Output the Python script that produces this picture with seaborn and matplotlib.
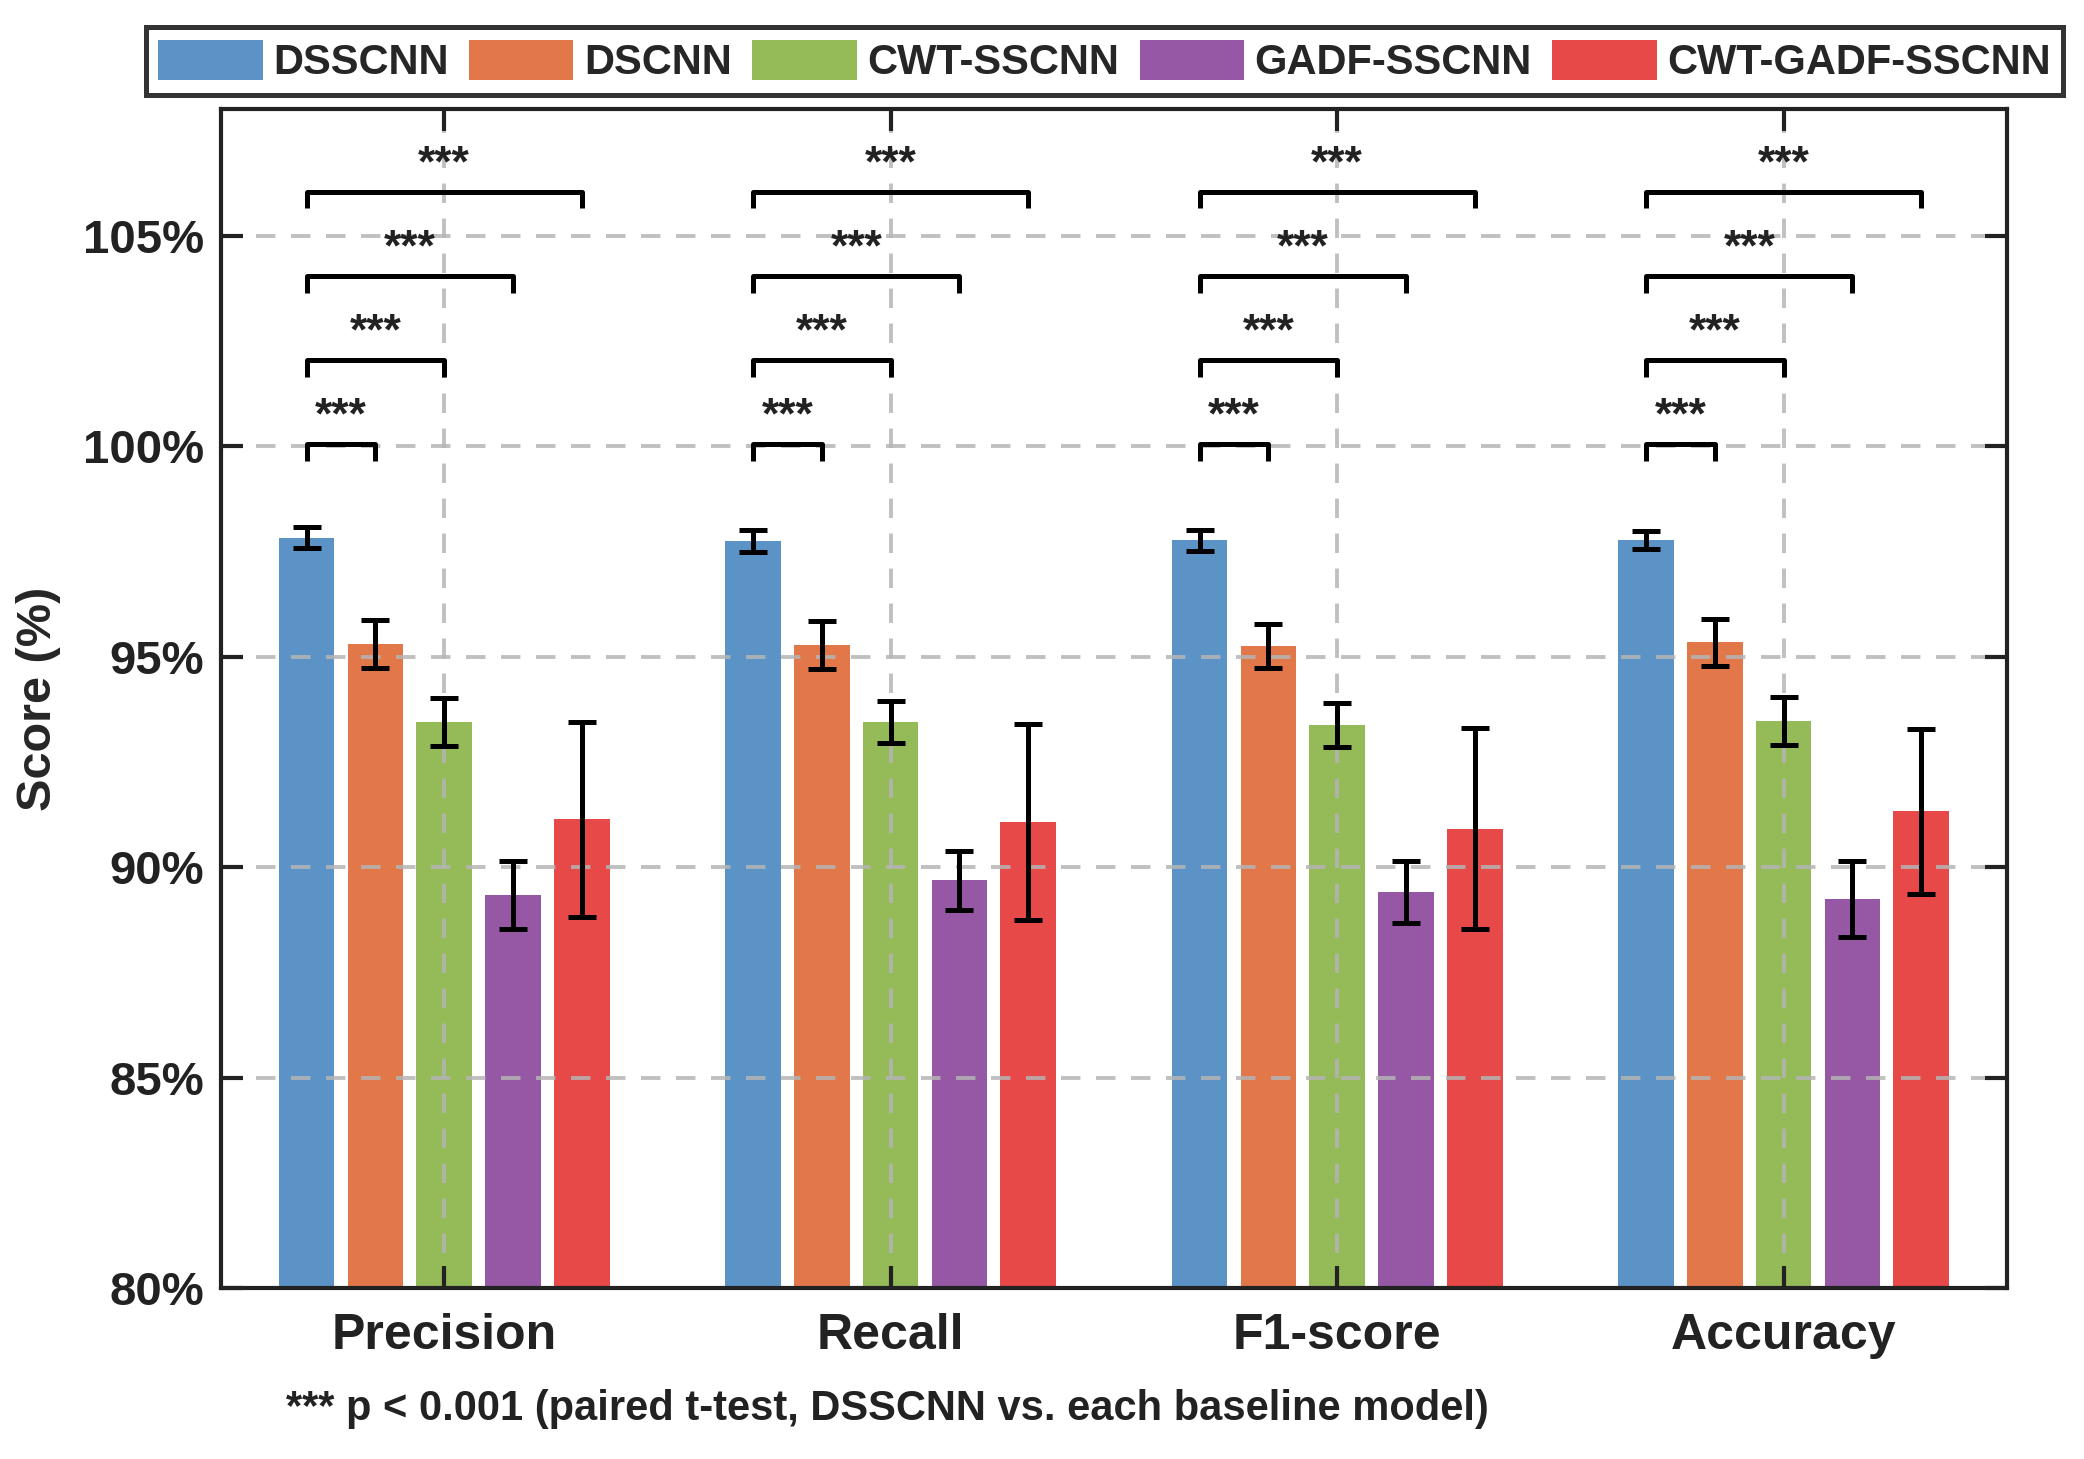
import matplotlib
matplotlib.use("Agg")
import matplotlib.pyplot as plt
import seaborn as sns
import pandas as pd

metrics = ["Precision", "Recall", "F1-score", "Accuracy"]
models = ["DSSCNN", "DSCNN", "CWT-SSCNN", "GADF-SSCNN", "CWT-GADF-SSCNN"]
colors = ["#5b93c6", "#e2774a", "#94bb58", "#9658a5", "#e74848"]

# mean scores (%) per model, ordered as metrics
dsscnn_mean = [97.83, 97.75, 97.77, 97.77]
dscnn_mean = [95.31, 95.28, 95.25, 95.34]
cwt_mean = [93.45, 93.45, 93.38, 93.48]
gadf_mean = [89.34, 89.69, 89.41, 89.25]
cwtgadf_mean = [91.14, 91.08, 90.92, 91.33]

# standard deviations (%)
dsscnn_err = [0.25, 0.25, 0.25, 0.22]
dscnn_err = [0.57, 0.58, 0.52, 0.55]
cwt_err = [0.57, 0.50, 0.52, 0.57]
gadf_err = [0.80, 0.70, 0.74, 0.90]
cwtgadf_err = [2.32, 2.33, 2.38, 1.96]

bracket_levels = [100.05, 102.05, 104.05, 106.05]
sig_label = "***"

yticks = [80, 85, 90, 95, 100, 105]
ytick_labels = ["80%", "85%", "90%", "95%", "100%", "105%"]

means = [dsscnn_mean, dscnn_mean, cwt_mean, gadf_mean, cwtgadf_mean]
errs = [dsscnn_err, dscnn_err, cwt_err, gadf_err, cwtgadf_err]

rows = []
for mi, model in enumerate(models):
    for ki, metric in enumerate(metrics):
        rows.append({"metric": metric, "model": model, "value": means[mi][ki]})
df = pd.DataFrame(rows)

sns.set_theme(style="white")
plt.rcParams["font.family"] = ["Liberation Sans", "DejaVu Sans"]
plt.rcParams["font.weight"] = "bold"

fig = plt.figure(figsize=(10.42, 7.295), dpi=200)
ax = fig.add_axes([0.106, 0.117, 0.857, 0.808])

sns.barplot(data=df, x="metric", y="value", hue="model", hue_order=models,
            order=metrics, palette=colors, width=0.77, gap=0.19,
            errorbar=None, ax=ax, saturation=1, linewidth=0)

handles, labels = ax.get_legend_handles_labels()
if ax.get_legend() is not None:
    ax.get_legend().remove()

bar_containers = list(ax.containers)

# error bars
centers = []
for mi, cont in enumerate(bar_containers):
    xs = [p.get_x() + p.get_width() / 2 for p in cont.patches]
    centers.append(xs)
    ax.errorbar(xs, means[mi], yerr=errs[mi], fmt="none", ecolor="black",
                elinewidth=1.8, capsize=5, capthick=1.8, zorder=6)

# significance brackets
for ki in range(len(metrics)):
    x1 = centers[0][ki]
    for j in range(1, len(models)):
        x2 = centers[j][ki]
        y = bracket_levels[j - 1]
        ax.plot([x1, x1, x2, x2], [y - 0.4, y, y, y - 0.4], color="black",
                lw=1.8, zorder=6, solid_capstyle="butt")
        ax.text((x1 + x2) / 2, y + 0.64, sig_label, ha="center", va="center",
                fontsize=16, fontweight="bold", color="#222222", zorder=7)

ax.set_ylim(80, 108)
ax.set_xlim(-0.5, 3.5)
ax.set_yticks(yticks)
ax.set_yticklabels(ytick_labels, fontsize=17, fontweight="bold")
ax.set_xticks(range(len(metrics)))
ax.set_xticklabels(metrics, fontsize=18, fontweight="bold")
ax.set_xlabel("")
ax.set_ylabel("Score (%)", fontsize=17.5, fontweight="bold", labelpad=8)

ax.grid(True, linestyle=(0, (5, 4)), color="#b5b5b5", linewidth=1.4, alpha=0.85)
ax.set_axisbelow(False)
for sp in ax.spines.values():
    sp.set_visible(True)
    sp.set_linewidth(1.5)
    sp.set_color("#222222")
    sp.set_zorder(10)
ax.tick_params(direction="in", length=8, width=1.5, top=True, right=True,
               bottom=True, left=True, colors="#222222", pad=6)
ax.tick_params(axis="x", pad=9)

leg = fig.legend(handles, labels, loc="center", bbox_to_anchor=(0.53, 0.958),
                 ncol=5, frameon=True, fancybox=False,
                 edgecolor="black", handlelength=2.5, handleheight=1.1,
                 columnspacing=0.5, handletextpad=0.25, borderpad=0.3,
                 prop={"weight": "bold", "size": 15})
leg.get_frame().set_linewidth(1.8)

fig.text(0.137, 0.034, "*** p < 0.001 (paired t-test, DSSCNN vs. each baseline model)",
         ha="left", va="center", fontsize=15, fontweight="bold", color="#222222")

fig.savefig("out.png", dpi=200)
